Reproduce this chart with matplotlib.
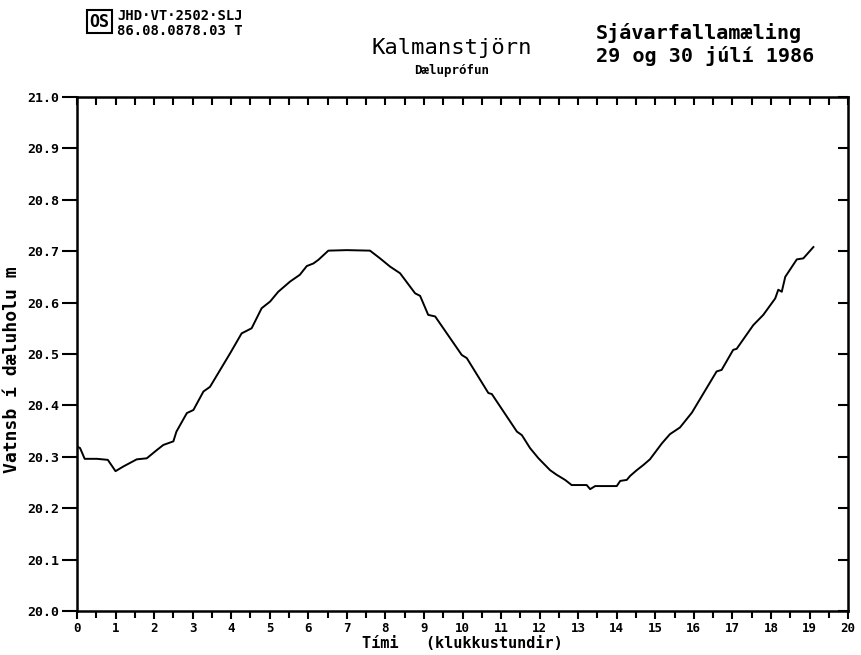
import numpy as np
import matplotlib
matplotlib.use("Agg")
import matplotlib.pyplot as plt
from matplotlib.ticker import MultipleLocator

# klukkustundir frá upphafi mælingar
timi = [0.0, 0.08, 0.2, 0.52, 0.8, 1.0, 1.2, 1.55, 1.81, 2.07, 2.24, 2.5,
        2.58, 2.85, 3.02, 3.28, 3.45, 3.97, 4.27, 4.53, 4.79, 5.01, 5.22,
        5.53, 5.78, 5.96, 6.13, 6.26, 6.52, 7.0, 7.6, 7.86, 8.12, 8.38,
        8.77, 8.90, 9.11, 9.29, 9.98, 10.11, 10.67, 10.76, 11.41, 11.54,
        11.75, 11.97, 12.27, 12.44, 12.66, 12.83, 13.22, 13.31, 13.44,
        14.0, 14.09, 14.26, 14.35, 14.52, 14.69, 14.86, 15.17, 15.38,
        15.64, 15.95, 16.59, 16.72, 17.02, 17.11, 17.54, 17.80, 18.11,
        18.19, 18.28, 18.37, 18.67, 18.84, 18.97, 19.1]
# vatnsborð (m)
vatn = [20.32, 20.317, 20.296, 20.296, 20.294, 20.272, 20.281, 20.295,
        20.297, 20.313, 20.323, 20.330, 20.349, 20.385, 20.391, 20.427,
        20.436, 20.501, 20.540, 20.550, 20.589, 20.602, 20.621, 20.641,
        20.654, 20.671, 20.676, 20.683, 20.701, 20.702, 20.701, 20.686,
        20.670, 20.657, 20.618, 20.613, 20.576, 20.573, 20.498, 20.492,
        20.424, 20.422, 20.349, 20.342, 20.317, 20.297, 20.274, 20.265,
        20.255, 20.245, 20.245, 20.237, 20.243, 20.243, 20.253, 20.255,
        20.263, 20.274, 20.284, 20.295, 20.326, 20.344, 20.357, 20.386,
        20.466, 20.469, 20.508, 20.510, 20.556, 20.576, 20.608, 20.625,
        20.621, 20.650, 20.684, 20.686, 20.697, 20.708]

mono = 'DejaVu Sans Mono'

fig = plt.figure(figsize=(8.61, 6.55), dpi=100)
ax = fig.add_axes([0.0894, 0.0672, 0.8956, 0.7848])
ax.plot(timi, vatn, color='black', linewidth=1.4)

ax.set_xlim(0, 20)
ax.set_ylim(20.0, 21.0)
ax.xaxis.set_major_locator(MultipleLocator(1))
ax.xaxis.set_minor_locator(MultipleLocator(0.5))
ax.set_yticks(np.arange(20.0, 21.01, 0.1))
ax.set_yticklabels(['%.1f' % v for v in np.arange(20.0, 21.01, 0.1)])

ax.tick_params(axis='x', which='both', direction='out', width=1.5,
               labelsize=9)
ax.tick_params(axis='x', which='major', length=6, pad=2)
ax.tick_params(axis='x', which='minor', length=5)
ax.tick_params(axis='y', direction='out', width=1.5, length=11,
               labelsize=9.5, pad=2)
for lab in ax.get_xticklabels() + ax.get_yticklabels():
    lab.set_family(mono)
    lab.set_fontweight('bold')
for s in ax.spines.values():
    s.set_linewidth(1.8)

# efri og hægri merki vísa inn
top = ax.secondary_xaxis('top')
top.xaxis.set_major_locator(MultipleLocator(0.5))
top.tick_params(direction='in', length=6, width=1.5, labeltop=False)
right = ax.secondary_yaxis('right')
right.set_yticks(np.arange(20.0, 21.01, 0.1))
right.tick_params(direction='in', length=7, width=1.5, labelright=False)

ax.set_xlabel('Tími   (klukkustundir)', family=mono, fontweight='bold',
              fontsize=11, labelpad=1)
fig.text(0.014, 0.435, 'Vatnsb í dæluholu m', family=mono, fontweight='bold',
         fontsize=13, rotation=90, ha='center', va='center')

fig.text(0.525, 0.927, 'Kalmanstjörn', family=mono, fontsize=16,
         ha='center', va='center')
fig.text(0.525, 0.893, 'Dæluprófun', family=mono, fontweight='bold',
         fontsize=9, ha='center', va='center')
fig.text(0.692, 0.95, 'Sjávarfallamæling', family=mono, fontweight='bold',
         fontsize=14.5, ha='left', va='center')
fig.text(0.692, 0.915, '29 og 30 júlí 1986', family=mono, fontweight='bold',
         fontsize=14.5, ha='left', va='center')
fig.text(0.115, 0.967, 'OS', family=mono, fontweight='bold', fontsize=12,
         ha='center', va='center',
         bbox=dict(boxstyle='square,pad=0.15', fc='white', ec='black', lw=1.5))
fig.text(0.136, 0.975, 'JHD·VT·2502·SLJ', family=mono, fontweight='bold',
         fontsize=10, ha='left', va='center')
fig.text(0.136, 0.953, '86.08.0878.03 T', family=mono, fontweight='bold',
         fontsize=10, ha='left', va='center')

fig.savefig('out.png', dpi=100)
